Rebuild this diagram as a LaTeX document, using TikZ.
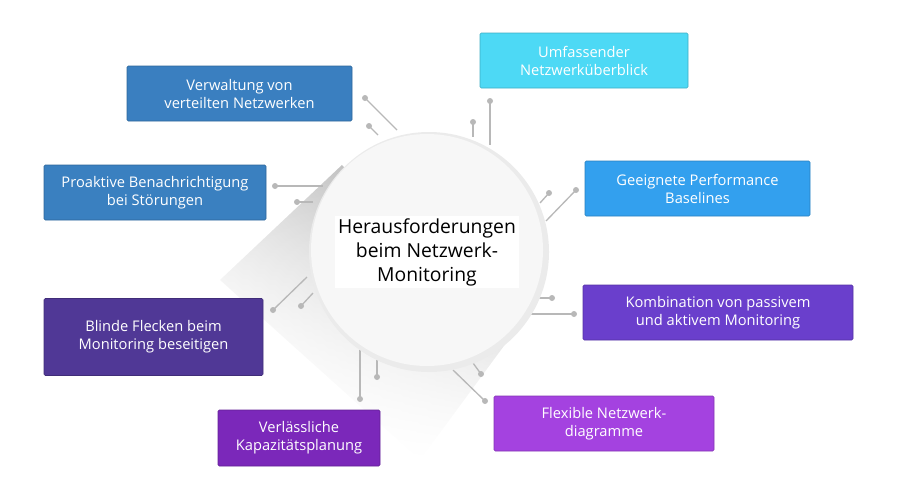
\documentclass[tikz,border=0pt]{standalone}
\usepackage{fontspec}
\setmainfont{Open Sans}
\usetikzlibrary{fadings}
\begin{document}
\begin{tikzpicture}[x=0.75pt,y=-0.75pt,
  box/.style={rounded corners=1pt,draw=#1!80!black,fill=#1,text=white,font=\fontsize{11}{13.5}\selectfont,align=center,inner sep=0pt},
  con/.style={draw=black!28,line width=1pt},
  dot/.style={circle,fill=black!28,inner sep=0pt,minimum size=4.5pt}]
\useasboundingbox (0,0) rectangle (898,500);
\definecolor{c1}{HTML}{3A7FC0}\definecolor{c2}{HTML}{4DD9F5}\definecolor{c3}{HTML}{3A80C0}
\definecolor{c4}{HTML}{33A0EE}\definecolor{c5}{HTML}{503896}\definecolor{c6}{HTML}{6A3FCC}
\definecolor{c7}{HTML}{7B28BA}\definecolor{c8}{HTML}{A442E0}
% shadow
\shade[left color=black!30,right color=white,shading angle=-45,path fading=south]
  (342,165) -- (512,335) -- (420,460) -- (220,280) -- cycle;
% connectors
\foreach \a/\b/\c/\d in {365/98/397/130, 369/126/378/135, 490/101/490/145, 473/122/473/137,
  576/190/546/221, 549/193/540/203, 552/298/530/298, 574/314/530/314,
  485/401/453/370, 481/374/473/363, 360/399/360/350, 377/377/377/360,
  273/310/307/277, 301/306/313/293, 275/186/323/186, 297/202/313/202}{
  \coordinate (p) at (\a,\b); \coordinate (q) at (\c,\d);
  \draw[con] (p) -- (q); \node[dot] at (p) {};}
% circle
\node[circle,minimum size=240*0.75pt,fill=black!8,draw=none] (cs) at (429,252) {};
\node[circle,minimum size=232*0.75pt,fill=black!3] (c) at (427,250) {};
\node[fill=white,inner sep=2pt,align=center,font=\fontsize{14.5}{18}\selectfont] at (427,252) {Herausforderungen\\beim Netzwerk-\\Monitoring};
% boxes
\node[box=c1,minimum width=225*0.75pt,minimum height=55*0.75pt] (b1) at (239.5,93.5) {Verwaltung von\\verteilten Netzwerken};
\node[box=c2,minimum width=208*0.75pt,minimum height=55*0.75pt] (b2) at (584,60.5) {Umfassender\\Netzwerküberblick};
\node[box=c3,minimum width=222*0.75pt,minimum height=55*0.75pt] (b3) at (155,192.5) {Proaktive Benachrichtigung\\bei Störungen};
\node[box=c4,minimum width=225*0.75pt,minimum height=55*0.75pt] (b4) at (697.5,188.5) {Geeignete Performance\\Baselines};
\node[box=c5,minimum width=219*0.75pt,minimum height=77*0.75pt] (b5) at (153.5,337) {Blinde Flecken beim\\Monitoring beseitigen};
\node[box=c6,minimum width=270*0.75pt,minimum height=55*0.75pt] (b6) at (718,312.5) {Kombination von passivem\\und aktivem Monitoring};
\node[box=c7,minimum width=162*0.75pt,minimum height=56*0.75pt] (b7) at (299,438) {Verlässliche\\Kapazitätsplanung};
\node[box=c8,minimum width=220*0.75pt,minimum height=55*0.75pt] (b8) at (604,423.5) {Flexible Netzwerk-\\diagramme};
\end{tikzpicture}
\end{document}
